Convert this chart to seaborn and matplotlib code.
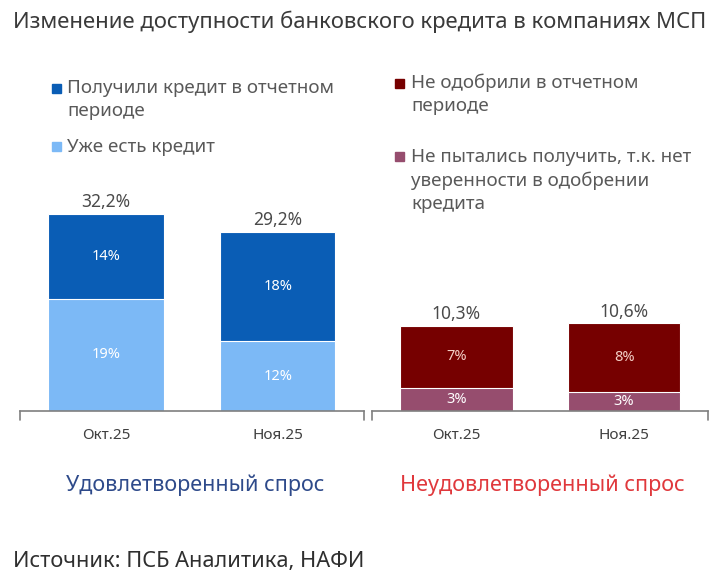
import matplotlib
matplotlib.use("Agg")
import matplotlib.pyplot as plt
import seaborn as sns
import pandas as pd
from matplotlib.patches import Rectangle

sns.set_style("white")
plt.rcParams['font.family'] = ['Noto Sans', 'DejaVu Sans']

# data
periods = ["Окт.25", "Ноя.25"]
have_credit = [18.3, 11.4]        # Уже есть кредит
got_credit = [13.9, 17.8]         # Получили кредит в отчетном периоде
have_labels = ["19%", "12%"]
got_labels = ["14%", "18%"]
sat_totals = ["32,2%", "29,2%"]

not_tried = [2.8, 2.3]            # Не пытались получить
refused = [7.5, 8.3]              # Не одобрили
not_tried_labels = ["3%", "3%"]
refused_labels = ["7%", "8%"]
unsat_totals = ["10,3%", "10,6%"]

legend_sat = ["Получили кредит в отчетном\nпериоде", "Уже есть кредит"]
legend_unsat = ["Не одобрили в отчетном\nпериоде",
                "Не пытались получить, т.к. нет\nуверенности в одобрении\nкредита"]

c_dark_blue = "#0a5db5"
c_light_blue = "#7cb9f6"
c_dark_red = "#760000"
c_mauve = "#964d6e"
c_text = "#595959"

W, H = 716, 581
fig = plt.figure(figsize=(W / 100, H / 100), dpi=100)
ax1 = fig.add_axes([0.028, 0.2926, 0.480, 0.587])
ax2 = fig.add_axes([0.520, 0.2926, 0.469, 0.587])


def stacked(ax, lower, upper, c_low, c_up, low_lab, up_lab, totals, ymax, up_txt):
    df = pd.DataFrame({"period": periods,
                       "lower": lower,
                       "total": [a + b for a, b in zip(lower, upper)]})
    sns.barplot(data=df, x="period", y="total", color=c_up, width=0.67,
                saturation=1, edgecolor="white", linewidth=0.8, ax=ax)
    sns.barplot(data=df, x="period", y="lower", color=c_low, width=0.67,
                saturation=1, edgecolor="white", linewidth=0.8, ax=ax)
    for i, (lo, tot) in enumerate(zip(df["lower"], df["total"])):
        ax.text(i, lo / 2, low_lab[i], ha="center", va="center",
                color="white", fontsize=10.5)
        ax.text(i, lo + (tot - lo) / 2, up_lab[i], ha="center", va="center",
                color=up_txt, fontsize=10.5)
        ax.text(i, tot + ymax * 0.008, totals[i], ha="center", va="bottom",
                color="#4a4a4a", fontsize=12.5)
    ax.set_xlim(-0.5, 1.5)
    ax.set_ylim(0, ymax)
    ax.set_xlabel("")
    ax.set_ylabel("")
    ax.set_yticks([])
    ax.tick_params(axis="x", length=0, pad=12, labelsize=11, labelcolor="#404040")
    for s in ["top", "right", "left"]:
        ax.spines[s].set_visible(False)
    ax.spines["bottom"].set_color("#7f7f7f")
    ax.spines["bottom"].set_linewidth(1.2)
    # little bracket ends
    for xe in (0, 1):
        ax.plot([xe, xe], [0, -0.025], transform=ax.transAxes, color="#7f7f7f",
                lw=1.2, clip_on=False)


def legend(x_box, x_txt, y_first, labels, colors, gap):
    # manual legend so the square sits on the first line of a wrapped label
    y = y_first
    for lab, col in zip(labels, colors):
        fig.patches.append(Rectangle((x_box / W, 1 - (y + 4.5) / H), 9 / W, 9 / H,
                                     transform=fig.transFigure, color=col))
        for line in lab.split("\n"):
            fig.text(x_txt / W, 1 - y / H, line, fontsize=13.5, color=c_text,
                     va="center")
            y += 23.5
        y += gap


stacked(ax1, have_credit, got_credit, c_light_blue, c_dark_blue,
        have_labels, got_labels, sat_totals, 55.7, "white")
stacked(ax2, not_tried, refused, c_mauve, c_dark_red,
        not_tried_labels, refused_labels, unsat_totals, 41.3, "#f3cfc6")

legend(52, 67, 88, legend_sat, [c_dark_blue, c_light_blue], 11.5)
legend(395, 411, 83, legend_unsat, [c_dark_red, c_mauve], 27)

fig.text(0.018, 0.962, "Изменение доступности банковского кредита в компаниях МСП",
         fontsize=15.9, color="#3a3a3a", va="center")
fig.text(0.273, 0.165, "Удовлетворенный спрос", fontsize=15.5, color="#2e4a8a",
         ha="center", va="center")
fig.text(0.758, 0.165, "Неудовлетворенный спрос", fontsize=15.6, color="#e0383c",
         ha="center", va="center")
fig.text(0.018, 0.033, "Источник: ПСБ Аналитика, НАФИ", fontsize=15.7,
         color="#2f2f2f", va="center")

fig.savefig("out.png", dpi=100)
